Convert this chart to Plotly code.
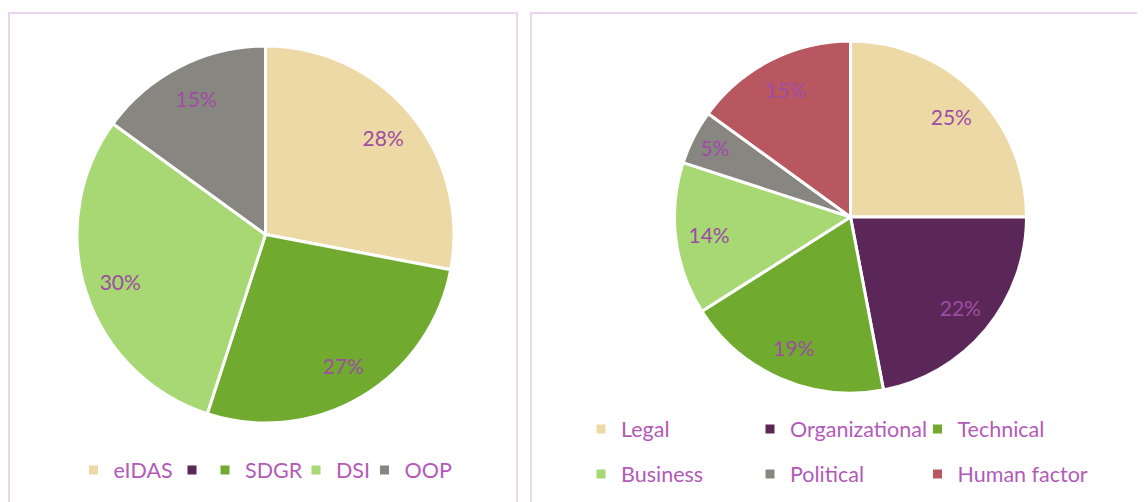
import plotly.graph_objects as go

W, H = 1145, 502
OFF = 8  # page body margin in front of the figure

# left chart (legislation)
left_labels = ["eIDAS", "\u00a0", "SDGR", "DSI", "OOP"]
left_values = [28, 0, 27, 30, 15]
left_colors = ["#EDD9A5", "#5B2758", "#70AB2F", "#A8D873", "#888680"]

# right chart (barrier type)
right_labels = ["Legal", "Organizational", "Technical", "Business", "Political", "Human factor"]
right_values = [25, 22, 19, 14, 5, 15]
right_colors = ["#EDD9A5", "#5B2758", "#70AB2F", "#A8D873", "#888680", "#B8575F"]

LABEL_COLOR = "#9E4DA3"
LEGEND_COLOR = "#B35AB8"
BORDER = "#EBD5EF"
FONT = "Lato"

FW, FH = W - OFF, H - OFF


def px_x(v):
    return (v - OFF) / FW


def px_y(v):
    return 1 - (v - OFF) / FH


def pie_domain(box):
    x0, y0, x1, y1 = box
    return dict(x=[px_x(x0), px_x(x1)], y=[px_y(y1), px_y(y0)])


def pie(labels, values, colors, box):
    return go.Pie(
        labels=labels, values=values, sort=False, direction="clockwise", rotation=0,
        marker=dict(colors=colors, line=dict(color="white", width=3)),
        textinfo="none", domain=pie_domain(box),
        showlegend=False, hoverinfo="label+percent",
    )


def pie_text(labels, values, box):
    # transparent ring on top, only carries the percent labels out near the rim
    return go.Pie(
        labels=labels, values=values, sort=False, direction="clockwise", rotation=0,
        hole=0.62,
        marker=dict(colors=["rgba(0,0,0,0)"] * len(values), line=dict(width=0)),
        texttemplate=["%{percent:.0%}" if v > 0 else "" for v in values],
        textposition="inside",
        insidetextorientation="horizontal",
        textfont=dict(family=FONT, size=21, color=LABEL_COLOR),
        domain=pie_domain(box), showlegend=False, hoverinfo="skip",
    )


def legend_entry(name, color, legend, width):
    # legend-only entry, one per slice
    return go.Scatter(
        x=[None], y=[None], mode="markers", name=name,
        marker=dict(symbol="square", size=9, color=color),
        legend=legend, legendwidth=width, hoverinfo="skip",
    )


left_box = (77, 46, 454, 423)
right_box = (674, 41, 1027, 393)

fig = go.Figure()
fig.add_trace(pie(left_labels, left_values, left_colors, left_box))
fig.add_trace(pie(right_labels, right_values, right_colors, right_box))
fig.add_trace(pie_text(left_labels, left_values, left_box))
fig.add_trace(pie_text(right_labels, right_values, right_box))

left_widths = [53.5, 1, 46, 23.5, 70]
left_legends = ["legend", "legend", "legend2", "legend2", "legend2"]
for lab, col, lg, w in zip(left_labels, left_colors, left_legends, left_widths):
    fig.add_trace(legend_entry(lab, col, lg, w))

right_widths = [124, 122.5, 150, 124, 122.5, 150]
right_legends = ["legend3"] * 3 + ["legend4"] * 3
for lab, col, lg, w in zip(right_labels, right_colors, right_legends, right_widths):
    fig.add_trace(legend_entry(lab, col, lg, w))


def legend_box(x, y):
    return dict(
        orientation="h", x=px_x(x), xanchor="left", y=px_y(y), yanchor="middle",
        bgcolor="rgba(0,0,0,0)", traceorder="normal",
        font=dict(family=FONT, size=21.5, color=LEGEND_COLOR),
    )


fig.update_layout(
    width=FW, height=FH,
    margin=dict(l=0, r=0, t=0, b=0),
    paper_bgcolor="white", plot_bgcolor="white",
    xaxis=dict(visible=False), yaxis=dict(visible=False),
    uniformtext=dict(minsize=21, mode="show"),
    legend=legend_box(73.5, 470),
    legend2=legend_box(205, 470),
    legend3=legend_box(581, 429),
    legend4=legend_box(581, 474),
    shapes=[
        dict(type="rect", xref="paper", yref="paper",
             x0=px_x(9), x1=px_x(517), y0=-0.1, y1=px_y(13),
             line=dict(color=BORDER, width=2), layer="below"),
        dict(type="rect", xref="paper", yref="paper",
             x0=px_x(531), x1=1.1, y0=-0.1, y1=px_y(13),
             line=dict(color=BORDER, width=2), layer="below"),
    ],
)

fig.write_html("out.html")
